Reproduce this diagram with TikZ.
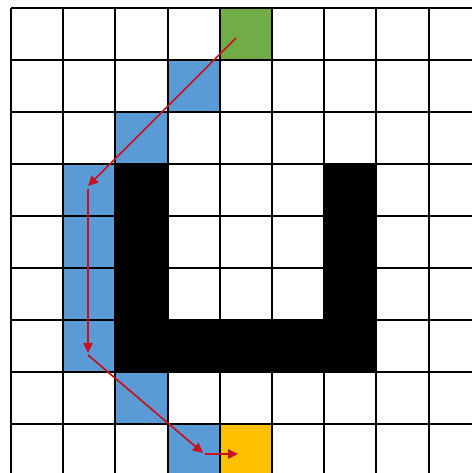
\documentclass[tikz,border=0pt]{standalone}
\usetikzlibrary{arrows.meta}
\definecolor{cellblue}{RGB}{91,155,213}
\definecolor{cellgreen}{RGB}{112,173,71}
\definecolor{cellorange}{RGB}{255,192,0}
\definecolor{arrowred}{RGB}{200,16,30}
\begin{document}
\begin{tikzpicture}[x=1pt,y=-1pt,
  gridline/.style={line width=1.9pt,black},
  route/.style={draw=arrowred,line width=1.7pt,-{Triangle[length=10pt,width=9.5pt]}}]
\useasboundingbox (0,0) rectangle (472,473);
\fill[white] (0,0) rectangle (472,473);
\newcommand\gcell[3]{\fill[#3] ({11+52.2*#1},{8+52*#2}) rectangle ++(52.2,52);}
% coloured cells
\gcell{4}{0}{cellgreen}
\gcell{3}{1}{cellblue}
\gcell{2}{2}{cellblue}
\gcell{1}{3}{cellblue}
\gcell{1}{4}{cellblue}
\gcell{1}{5}{cellblue}
\gcell{1}{6}{cellblue}
\gcell{2}{7}{cellblue}
\gcell{3}{8}{cellblue}
\gcell{4}{8}{cellorange}
% grid
\foreach \i in {0,...,8} {
  \draw[gridline] ({11+52.2*\i},8) -- ({11+52.2*\i},473);
  \draw[gridline] (11,{8+52*\i}) -- (472,{8+52*\i});
}
% black U obstacle
\fill[black] (115.4,164) rectangle (167.6,372);
\fill[black] (324.2,164) rectangle (376.4,372);
\fill[black] (115.4,320) rectangle (376.4,372);
% route
\coordinate (s) at (236,38);
\coordinate (a) at (88,186);
\coordinate (b) at (88,189);
\coordinate (c) at (88,353);
\coordinate (d) at (88,355);
\coordinate (e) at (203,453);
\coordinate (f) at (205,454);
\coordinate (g) at (238,454);
\draw[route] (s) -- (a);
\draw[route] (b) -- (c);
\draw[route] (d) -- (e);
\draw[route] (f) -- (g);
\end{tikzpicture}
\end{document}
